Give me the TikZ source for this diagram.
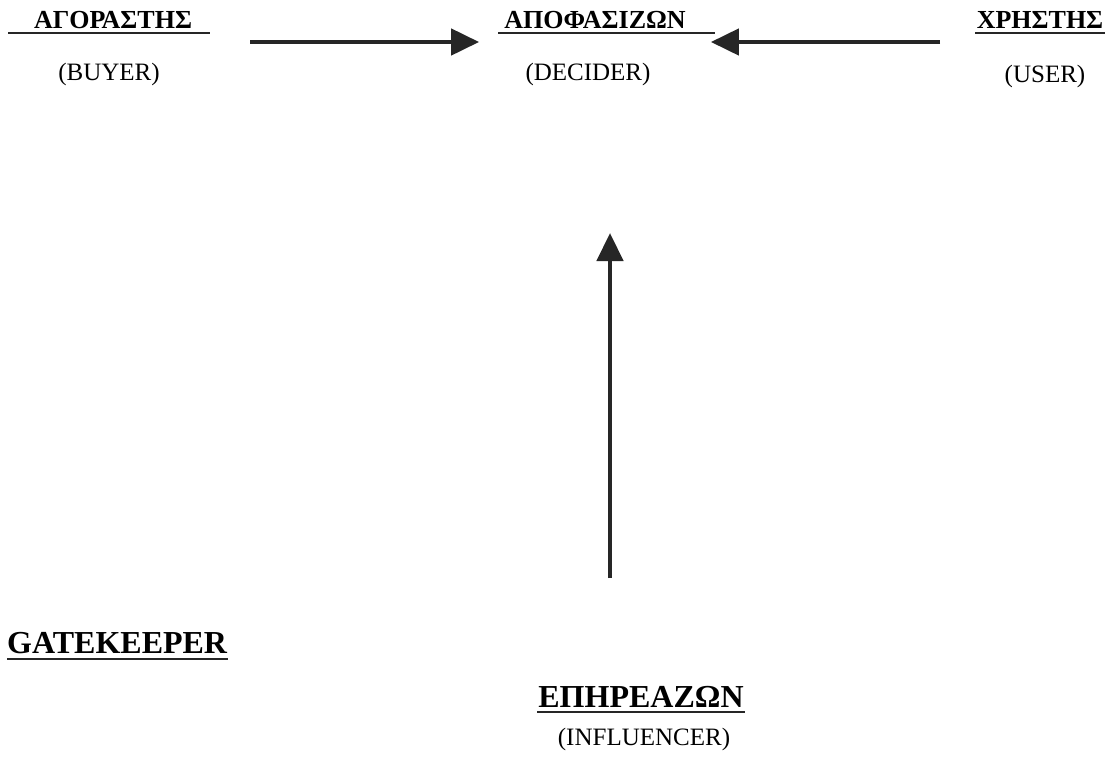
\documentclass[tikz,border=0pt]{standalone}
\usepackage{fontspec}
\setmainfont{Liberation Serif}
\usetikzlibrary{arrows.meta}
\begin{document}
\begin{tikzpicture}[x=1pt,y=1pt,
  role/.style={inner sep=0pt,anchor=base,font=\fontsize{26}{30}\selectfont\bfseries},
  bigrole/.style={inner sep=0pt,anchor=base,font=\fontsize{32}{36}\selectfont\bfseries},
  eng/.style={inner sep=0pt,anchor=base,font=\fontsize{25}{30}\selectfont},
  uline/.style={line width=2.2pt,black!85},
  flow/.style={line width=4.5pt,black!85,-{Triangle[length=28pt,width=26pt]}}]
\fill[white] (0,0) rectangle (1112,-764);
\useasboundingbox (0,0) rectangle (1112,-764);

% role titles and their English names
\node[role] (buyer) at (113,-28) {ΑΓΟΡΑΣΤΗΣ};
\node[eng]  (buyerE) at (109,-80) {(BUYER)};
\node[role] (decider) at (595,-28) {ΑΠΟΦΑΣΙΖΩΝ};
\node[eng]  (deciderE) at (588,-80) {(DECIDER)};
\node[role] (user) at (1040,-28) {ΧΡΗΣΤΗΣ};
\node[eng]  (userE) at (1045,-82) {(USER)};
\node[bigrole,anchor=base west] (gate) at (7,-653) {GATEKEEPER};
\node[bigrole] (infl) at (641,-707) {ΕΠΗΡΕΑΖΩΝ};
\node[eng]  (inflE) at (644,-745) {(INFLUENCER)};

% underlines
\draw[uline] (8,-33) -- (210,-33);
\draw[uline] (498,-33) -- (715,-33);
\draw[uline] (975,-33) -- (1105,-33);
\draw[uline] (7,-659) -- (228,-659);
\draw[uline] (537,-712) -- (745,-712);

% arrow tails
\coordinate (fromBuyer) at (250,-42);
\coordinate (fromUser) at (940,-42);
\coordinate (fromInfl) at (610,-578);

% arrows into the decider
\draw[flow,shorten >=25pt] (fromBuyer) -- (fromBuyer -| decider.west);
\draw[flow,shorten >=25pt] (fromUser) -- (fromUser -| decider.east);
\draw[flow] (fromInfl) -- (610,-233);
\end{tikzpicture}
\end{document}
